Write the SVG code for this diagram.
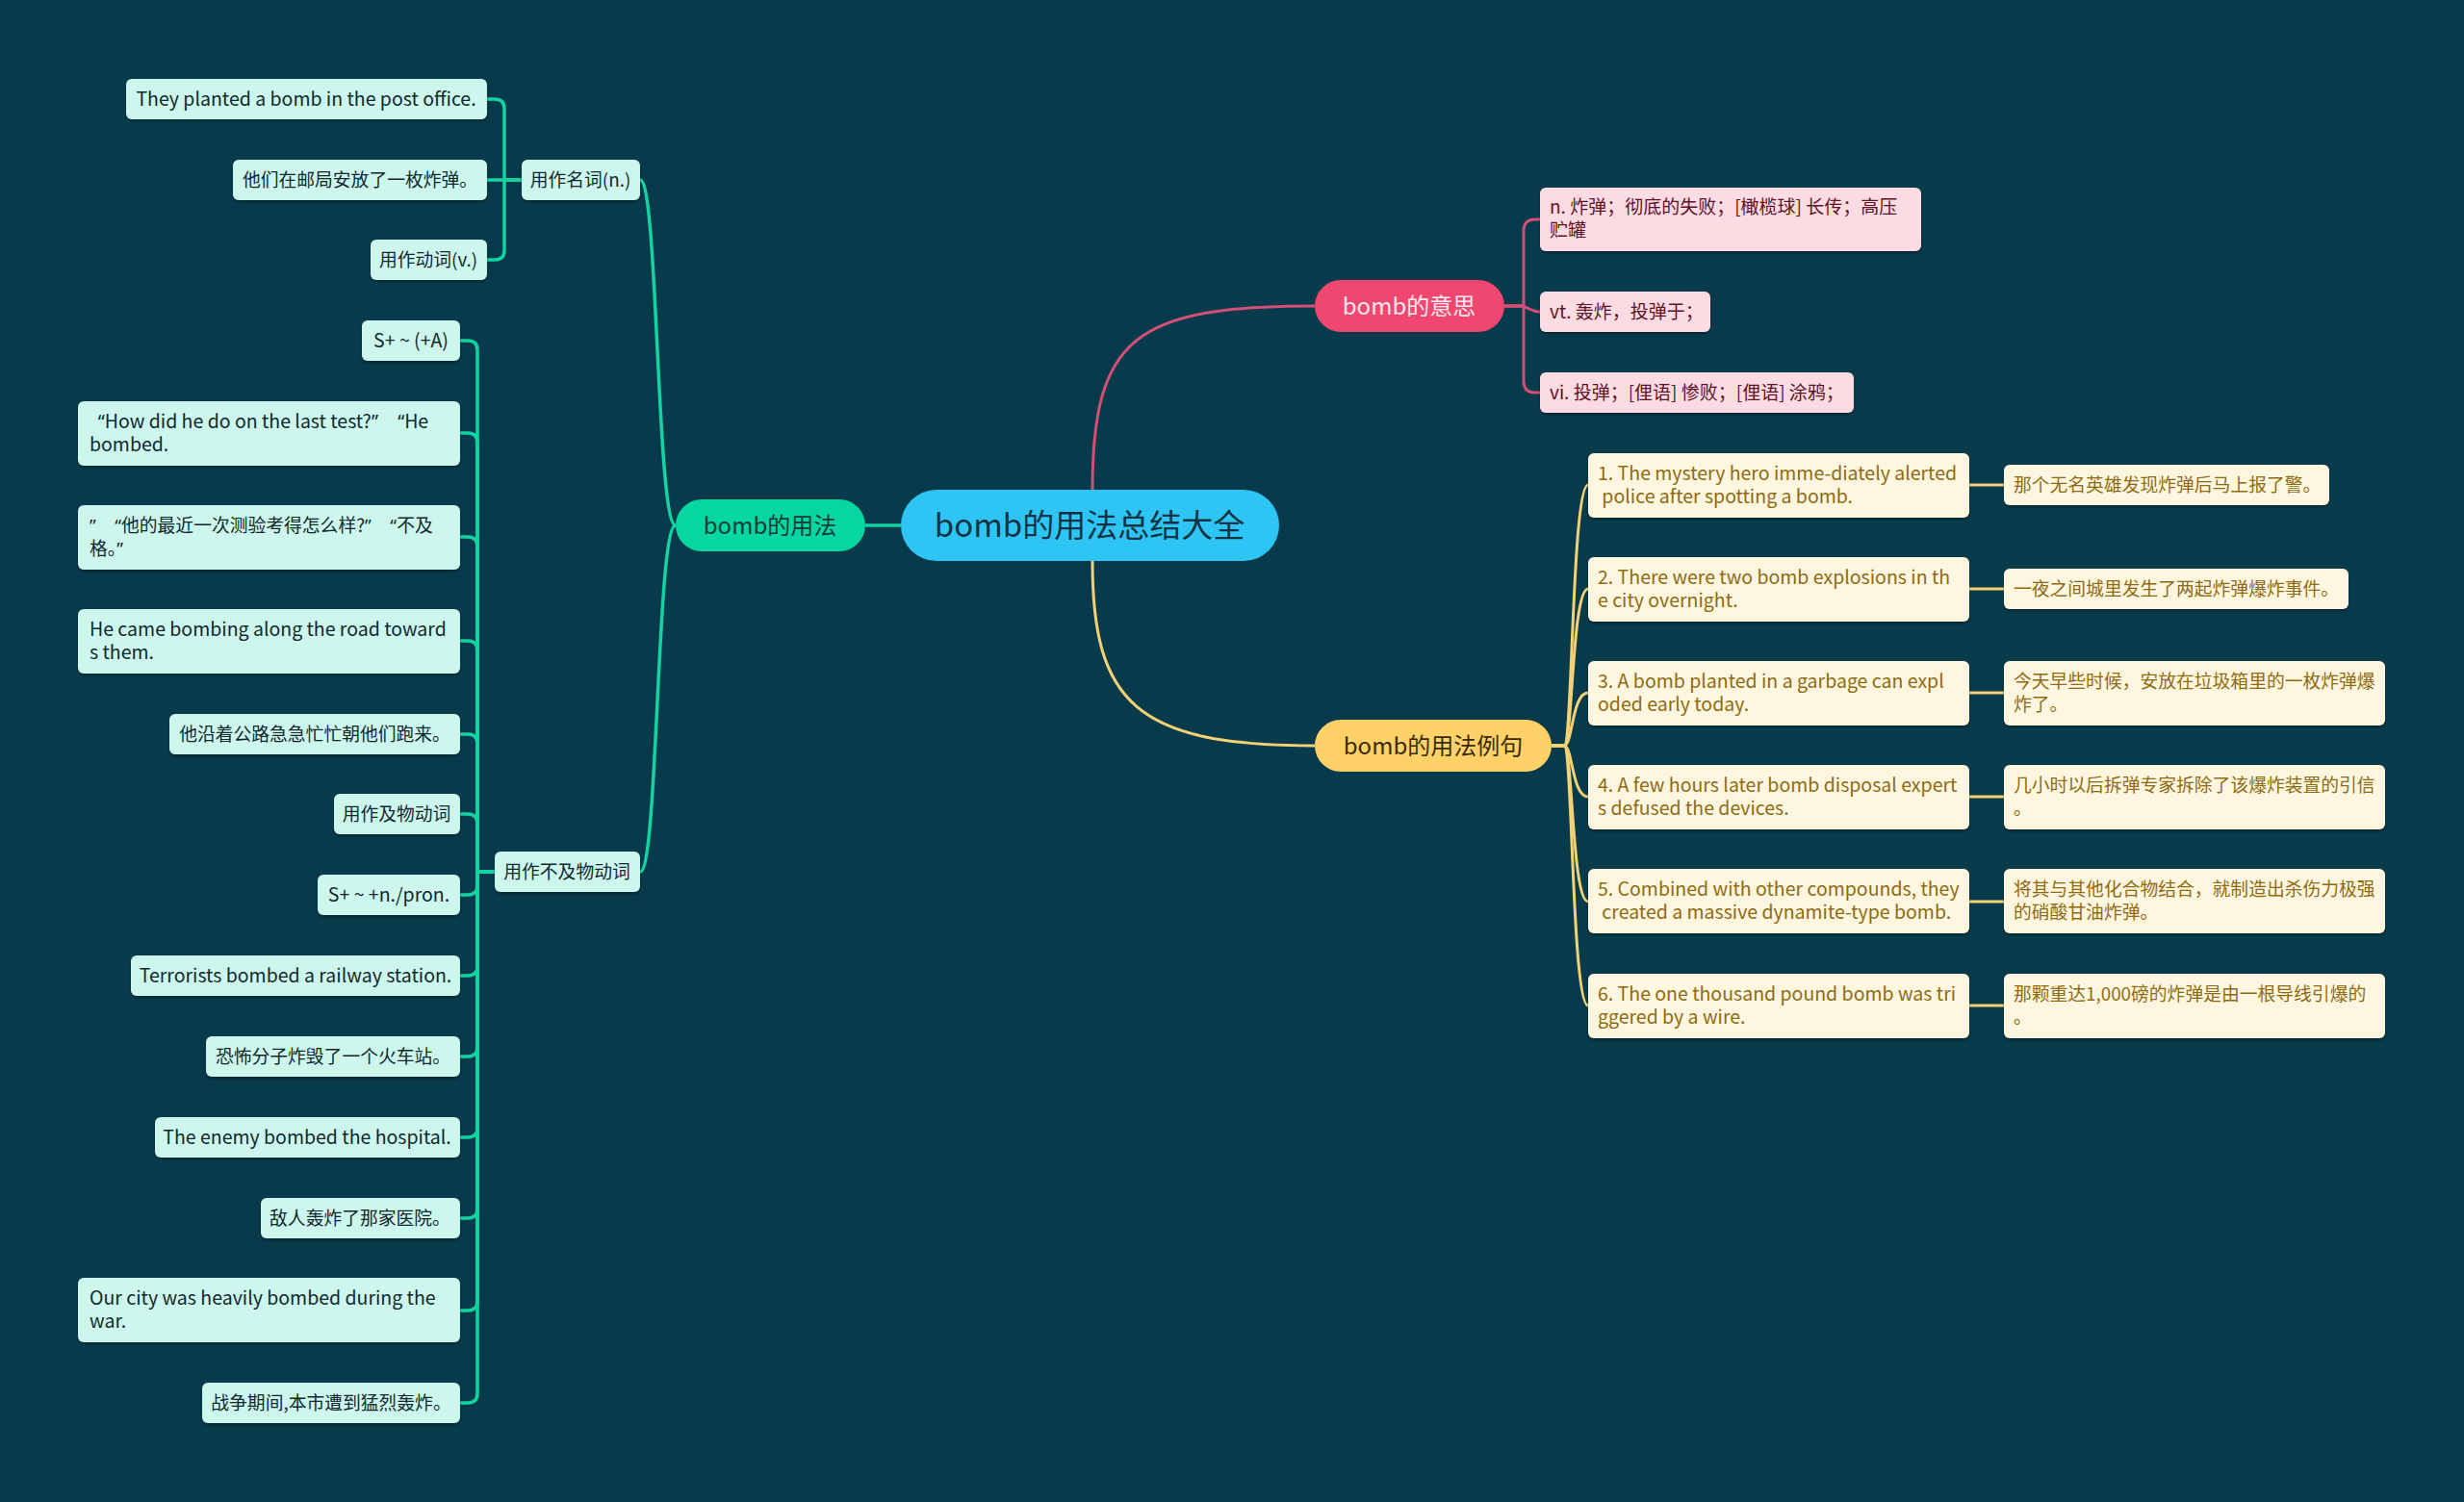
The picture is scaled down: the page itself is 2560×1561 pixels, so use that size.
<svg xmlns="http://www.w3.org/2000/svg" width="2560" height="1561" viewBox="0 0 2560 1561">
<defs>
<filter id="sh" x="-5%" y="-20%" width="110%" height="150%">
<feDropShadow dx="0" dy="2" stdDeviation="1.5" flood-color="#000" flood-opacity="0.35"/>
</filter>
<style>
text{font-family:"Noto Sans CJK SC","Noto Sans",sans-serif;white-space:pre}
.q{font-family:"Noto Sans",sans-serif}
.gl rect{fill:#CDF6EC;filter:url(#sh)}
.gl text{fill:#10292E;font-size:19.5px}
.pl rect{fill:#FDDBE3;filter:url(#sh)}
.pl text{fill:#5E1226;font-size:19px}
.yl rect{fill:#FFF6DF;filter:url(#sh)}
.yl text{fill:#8E6B12;font-size:19.5px}
.gl text.z,.yl text.z{font-size:18.8px}
.m text{font-size:24px;text-anchor:middle}
.c{text-anchor:middle}
.lg path{fill:none;stroke:#12D3A2;stroke-width:3.5}
.lp path{fill:none;stroke:#D44F78;stroke-width:3}
.ly path{fill:none;stroke:#F3D174;stroke-width:3}
</style>
</defs>
<rect width="2560" height="1561" fill="#073B4C"/>

<g id="connectors">
<g class="lg">
<path d="M936,546 H899"/>
<path d="M702,546 C682,546 684,187 665,187"/>
<path d="M702,546 C682,546 684,906 665,906"/>
<path d="M542,187 H524 V113 Q524,103 514,103 H506"/>
<path d="M542,187 H506"/>
<path d="M542,187 H524 V260 Q524,270 514,270 H506"/>
<path d="M514,906 H496 V364 Q496,354 486,354 H478"/>
<path d="M514,906 H496 V460 Q496,450 486,450 H478"/>
<path d="M514,906 H496 V568 Q496,558 486,558 H478"/>
<path d="M514,906 H496 V676 Q496,666 486,666 H478"/>
<path d="M514,906 H496 V773 Q496,763 486,763 H478"/>
<path d="M514,906 H496 V856 Q496,846 486,846 H478"/>
<path d="M514,906 H496 V920 Q496,930 486,930 H478"/>
<path d="M514,906 H496 V1004 Q496,1014 486,1014 H478"/>
<path d="M514,906 H496 V1088 Q496,1098 486,1098 H478"/>
<path d="M514,906 H496 V1172 Q496,1182 486,1182 H478"/>
<path d="M514,906 H496 V1256 Q496,1266 486,1266 H478"/>
<path d="M514,906 H496 V1352 Q496,1362 486,1362 H478"/>
<path d="M514,906 H496 V1448 Q496,1458 486,1458 H478"/>
</g>
<g class="lp">
<path d="M1135,509 C1135,350 1180,318 1366,318"/>
<path d="M1563,318 H1583 V240 Q1583,228 1595,228 H1600"/>
<path d="M1563,318 H1578 C1590,318 1588,324 1600,324"/>
<path d="M1563,318 H1583 V396 Q1583,408 1595,408 H1600"/>
</g>
<g class="ly">
<path d="M1135,583 C1135,730 1180,775 1366,775"/>
<path d="M1612,775 H1625 C1634,775 1633,504 1650,504"/>
<path d="M1612,775 H1625 C1634,775 1633,612 1650,612"/>
<path d="M1612,775 H1625 C1634,775 1633,720 1650,720"/>
<path d="M1612,775 H1625 C1634,775 1633,828 1650,828"/>
<path d="M1612,775 H1625 C1634,775 1633,937 1650,937"/>
<path d="M1612,775 H1625 C1634,775 1633,1045 1650,1045"/>
<path d="M2046,504 H2082"/>
<path d="M2046,612 H2082"/>
<path d="M2046,720 H2082"/>
<path d="M2046,828 H2082"/>
<path d="M2046,937 H2082"/>
<path d="M2046,1045 H2082"/>
</g>
</g>

<g id="root">
<rect x="936" y="509" width="393" height="74" rx="37" fill="#2EC5F4"/>
<text x="1132" y="558" font-size="33" text-anchor="middle" fill="#0E3345">bomb的用法总结大全</text>
</g>

<g id="usage" class="m">
<rect x="702" y="519" width="197" height="54" rx="27" fill="#06D6A0"/>
<text x="800" y="555" fill="#0E3A3A">bomb的用法</text>
</g>
<g id="meaning" class="m">
<rect x="1366" y="291" width="197" height="54" rx="27" fill="#EF476F"/>
<text x="1464" y="327" fill="#FDE8EE">bomb的意思</text>
</g>
<g id="examples" class="m">
<rect x="1366" y="748" width="246" height="54" rx="27" fill="#FFD166"/>
<text x="1489" y="784" fill="#3A2A08">bomb的用法例句</text>
</g>

<g id="noun" class="gl"><rect x="542" y="166" width="123" height="42" rx="6"/><text class="c z" x="603" y="194">用作名词(n.)</text></g>
<g id="n1" class="gl"><rect x="131" y="82" width="375" height="42" rx="6"/><text class="c" x="318" y="110">They planted a bomb in the post office.</text></g>
<g id="n2" class="gl"><rect x="242" y="166" width="264" height="42" rx="6"/><text class="c z" x="374" y="194">他们在邮局安放了一枚炸弹。</text></g>
<g id="n3" class="gl"><rect x="385" y="249" width="121" height="42" rx="6"/><text class="c z" x="445" y="277">用作动词(v.)</text></g>

<g id="intrans" class="gl"><rect x="514" y="885" width="151" height="42" rx="6"/><text class="c z" x="589" y="913">用作不及物动词</text></g>
<g id="i1" class="gl"><rect x="376" y="333" width="102" height="42" rx="6"/><text class="c" x="427" y="361">S+ ~ (+A)</text></g>
<g id="i2" class="gl"><rect x="81" y="417" width="397" height="67" rx="6"/><text x="93" y="445">  <tspan class="q">“</tspan>How did he do on the last test?<tspan class="q">”    “</tspan>He</text><text x="93" y="469">bombed.</text></g>
<g id="i3" class="gl"><rect x="81" y="525" width="397" height="67" rx="6"/><text class="z" x="93" y="553"><tspan class="q">”    “</tspan>他的最近一次测验考得怎么样?<tspan class="q">”    “</tspan>不及</text><text class="z" x="93" y="577">格。<tspan class="q">”</tspan></text></g>
<g id="i4" class="gl"><rect x="81" y="633" width="397" height="67" rx="6"/><text x="93" y="661">He came bombing along the road toward</text><text x="93" y="685">s them.</text></g>
<g id="i5" class="gl"><rect x="176" y="742" width="302" height="42" rx="6"/><text class="c z" x="327" y="770">他沿着公路急急忙忙朝他们跑来。</text></g>
<g id="i6" class="gl"><rect x="347" y="825" width="131" height="42" rx="6"/><text class="c z" x="412" y="853">用作及物动词</text></g>
<g id="i7" class="gl"><rect x="330" y="909" width="148" height="42" rx="6"/><text class="c" x="404" y="937">S+ ~ +n./pron.</text></g>
<g id="i8" class="gl"><rect x="136" y="993" width="342" height="42" rx="6"/><text class="c" x="307" y="1021">Terrorists bombed a railway station.</text></g>
<g id="i9" class="gl"><rect x="214" y="1077" width="264" height="42" rx="6"/><text class="c z" x="346" y="1105">恐怖分子炸毁了一个火车站。</text></g>
<g id="i10" class="gl"><rect x="161" y="1161" width="317" height="42" rx="6"/><text class="c" x="319" y="1189">The enemy bombed the hospital.</text></g>
<g id="i11" class="gl"><rect x="271" y="1245" width="207" height="42" rx="6"/><text class="c z" x="374" y="1273">敌人轰炸了那家医院。</text></g>
<g id="i12" class="gl"><rect x="81" y="1328" width="397" height="67" rx="6"/><text x="93" y="1356">Our city was heavily bombed during the</text><text x="93" y="1380">war.</text></g>
<g id="i13" class="gl"><rect x="210" y="1437" width="268" height="42" rx="6"/><text class="c z" x="344" y="1465">战争期间,本市遭到猛烈轰炸。</text></g>

<g id="p1" class="pl"><rect x="1600" y="195" width="396" height="66" rx="6"/><text x="1610" y="222">n. 炸弹；彻底的失败；[橄榄球] 长传；高压</text><text x="1610" y="246">贮罐</text></g>
<g id="p2" class="pl"><rect x="1600" y="303" width="177" height="42" rx="6"/><text x="1610" y="331">vt. 轰炸，投弹于；</text></g>
<g id="p3" class="pl"><rect x="1600" y="387" width="326" height="42" rx="6"/><text x="1610" y="415">vi. 投弹；[俚语] 惨败；[俚语] 涂鸦；</text></g>

<g id="e1" class="yl"><rect x="1650" y="471" width="396" height="67" rx="6"/><text x="1660" y="499">1. The mystery hero imme-diately alerted</text><text x="1660" y="523"> police after spotting a bomb.</text></g>
<g id="e2" class="yl"><rect x="1650" y="579" width="396" height="67" rx="6"/><text x="1660" y="607">2. There were two bomb explosions in th</text><text x="1660" y="631">e city overnight.</text></g>
<g id="e3" class="yl"><rect x="1650" y="687" width="396" height="67" rx="6"/><text x="1660" y="715">3. A bomb planted in a garbage can expl</text><text x="1660" y="739">oded early today.</text></g>
<g id="e4" class="yl"><rect x="1650" y="795" width="396" height="67" rx="6"/><text x="1660" y="823">4. A few hours later bomb disposal expert</text><text x="1660" y="847">s defused the devices.</text></g>
<g id="e5" class="yl"><rect x="1650" y="903" width="396" height="67" rx="6"/><text x="1660" y="931">5. Combined with other compounds, they</text><text x="1660" y="955"> created a massive dynamite-type bomb.</text></g>
<g id="e6" class="yl"><rect x="1650" y="1012" width="396" height="67" rx="6"/><text x="1660" y="1040">6. The one thousand pound bomb was tri</text><text x="1660" y="1064">ggered by a wire.</text></g>

<g id="t1" class="yl"><rect x="2082" y="483" width="338" height="42" rx="6"/><text class="z" x="2092" y="511">那个无名英雄发现炸弹后马上报了警。</text></g>
<g id="t2" class="yl"><rect x="2082" y="591" width="358" height="42" rx="6"/><text class="z" x="2092" y="619">一夜之间城里发生了两起炸弹爆炸事件。</text></g>
<g id="t3" class="yl"><rect x="2082" y="687" width="396" height="67" rx="6"/><text class="z" x="2092" y="715">今天早些时候，安放在垃圾箱里的一枚炸弹爆</text><text class="z" x="2092" y="739">炸了。</text></g>
<g id="t4" class="yl"><rect x="2082" y="795" width="396" height="67" rx="6"/><text class="z" x="2092" y="823">几小时以后拆弹专家拆除了该爆炸装置的引信</text><text class="z" x="2092" y="847">。</text></g>
<g id="t5" class="yl"><rect x="2082" y="903" width="396" height="67" rx="6"/><text class="z" x="2092" y="931">将其与其他化合物结合，就制造出杀伤力极强</text><text class="z" x="2092" y="955">的硝酸甘油炸弹。</text></g>
<g id="t6" class="yl"><rect x="2082" y="1012" width="396" height="67" rx="6"/><text class="z" x="2092" y="1040">那颗重达1,000磅的炸弹是由一根导线引爆的</text><text class="z" x="2092" y="1064">。</text></g>
</svg>
